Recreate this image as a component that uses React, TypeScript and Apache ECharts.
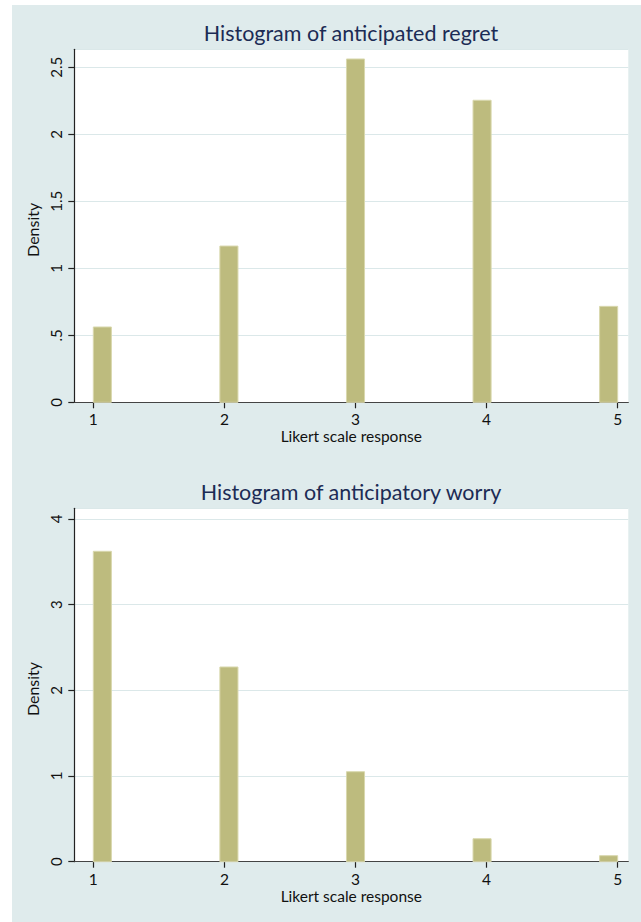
import React, { useEffect, useRef } from "react";
import * as echarts from "echarts";

// ---- data ----
const LIKERT_VALUES = [1, 2, 3, 4, 5];
const REGRET_DENSITY = [0.562, 1.166, 2.562, 2.254, 0.716];
const WORRY_DENSITY = [3.622, 2.272, 1.05, 0.268, 0.07];
const X_TICKS = [1, 2, 3, 4, 5];
const REGRET_Y_TICKS = [0, 0.5, 1, 1.5, 2, 2.5];
const WORRY_Y_TICKS = [0, 1, 2, 3, 4];
const BIN_COUNT = 29;
const BIN_START = 1;
const BIN_END = 5;

const TITLE_TOP = "Histogram of anticipated regret";
const TITLE_BOTTOM = "Histogram of anticipatory worry";
const X_NAME = "Likert scale response";
const Y_NAME = "Density";

const FONT = "Lato";
const BG = "#dfebec";
const GRID_LINE = "#dbe8e9";
const BAR_FILL = "#bdbb7e";
const BAR_STROKE = "#d9d8ae";
const TITLE_COLOR = "#1c2b55";

function binRows(values: number[], dens: number[]) {
  const w = (BIN_END - BIN_START) / BIN_COUNT;
  return values.map((v, i) => {
    const k = Math.min(Math.floor((v - BIN_START) / w), BIN_COUNT - 1);
    const lo = BIN_START + k * w;
    return [lo, lo + w, dens[i]];
  });
}

function yFmt(v: number) {
  if (v === 0) return "0";
  const s = String(v);
  return s.startsWith("0.") ? s.slice(1) : s;
}

export default function App() {
  const ref = useRef<HTMLDivElement>(null);
  useEffect(() => {
    if (!ref.current) return;
    const chart = echarts.init(ref.current, undefined, { renderer: "svg" });

    const renderItem = (params: any, api: any) => {
      const x0 = api.value(0);
      const x1 = api.value(1);
      const y = api.value(2);
      const p0 = api.coord([x0, y]);
      const p1 = api.coord([x1, 0]);
      return {
        type: "rect",
        shape: { x: p0[0], y: p0[1], width: p1[0] - p0[0], height: p1[1] - p0[1] },
        style: { fill: BAR_FILL, stroke: BAR_STROKE, lineWidth: 1 },
      };
    };

    const xAxisCommon = (gridIndex: number) => ({
      type: "value",
      gridIndex,
      min: 0.855,
      max: 5.081,
      name: X_NAME,
      nameLocation: "middle",
      nameGap: 26,
      nameTextStyle: { fontFamily: FONT, fontSize: 15.5, color: "#111" },
      axisLine: { show: true, onZero: false, lineStyle: { color: "#444", width: 1.2 } },
      axisTick: { show: true, length: 6, customValues: X_TICKS, lineStyle: { color: "#222", width: 1.2 } },
      axisLabel: { customValues: X_TICKS, margin: 9, fontFamily: FONT, fontSize: 15.5, color: "#111" },
      splitLine: { show: false },
    });

    const yAxisCommon = (gridIndex: number, max: number, interval: number) => ({
      type: "value",
      gridIndex,
      min: 0,
      max,
      interval,
      name: Y_NAME,
      nameLocation: "middle",
      nameGap: 27,
      nameRotate: 90,
      nameTextStyle: { fontFamily: FONT, fontSize: 16, color: "#111", padding: [0, 0, 0, -8] },
      axisLine: { show: true, lineStyle: { color: "#222", width: 1.2 } },
      axisTick: { show: true, length: 6, lineStyle: { color: "#222", width: 1.2 } },
      axisLabel: {
        rotate: 90,
        margin: 11,
        fontFamily: FONT,
        fontSize: 15,
        color: "#111",
        formatter: yFmt,
        showMaxLabel: false,
      },
      splitLine: { show: true, lineStyle: { color: GRID_LINE, width: 1.2 } },
    });

    const regretMax = (402.3 - 49.3) / 134;
    const worryMax = (861.7 - 508.3) / 85.7;

    chart.setOption({
      animation: false,
      backgroundColor: "#ffffff",
      graphic: [
        { type: "rect", z: -100, shape: { x: 12, y: 5, width: 629, height: 917 }, style: { fill: BG } },
        {
          type: "text", x: 351, y: 33,
          style: { text: TITLE_TOP, textAlign: "center", textVerticalAlign: "middle", fontFamily: FONT, fontSize: 21.5, fill: TITLE_COLOR },
        },
        {
          type: "text", x: 351, y: 492,
          style: { text: TITLE_BOTTOM, textAlign: "center", textVerticalAlign: "middle", fontFamily: FONT, fontSize: 21.5, fill: TITLE_COLOR },
        },
      ],
      grid: [
        { left: 74.3, top: 49.3, width: 554, height: 353, show: true, backgroundColor: "#ffffff", borderWidth: 0 },
        { left: 74.3, top: 508.3, width: 554, height: 353.4, show: true, backgroundColor: "#ffffff", borderWidth: 0 },
      ],
      xAxis: [xAxisCommon(0), xAxisCommon(1)],
      yAxis: [
        yAxisCommon(0, regretMax, REGRET_Y_TICKS[1] - REGRET_Y_TICKS[0]),
        yAxisCommon(1, worryMax, WORRY_Y_TICKS[1] - WORRY_Y_TICKS[0]),
      ],
      series: [
        {
          type: "custom",
          xAxisIndex: 0,
          yAxisIndex: 0,
          renderItem,
          encode: { x: [0, 1], y: 2 },
          data: binRows(LIKERT_VALUES, REGRET_DENSITY),
        },
        {
          type: "custom",
          xAxisIndex: 1,
          yAxisIndex: 1,
          renderItem,
          encode: { x: [0, 1], y: 2 },
          data: binRows(LIKERT_VALUES, WORRY_DENSITY),
        },
      ],
    });
    return () => chart.dispose();
  }, []);

  return (
    <div
      ref={ref}
      style={{ position: "fixed", left: 0, top: 0, width: 641, height: 922 }}
    />
  );
}
